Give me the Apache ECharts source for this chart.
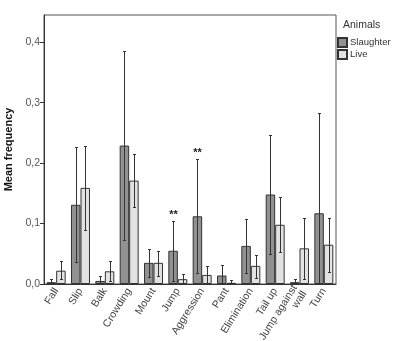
<!DOCTYPE html>
<html>
<head>
<meta charset="utf-8">
<script src="https://cdn.jsdelivr.net/npm/echarts@6/dist/echarts.min.js"></script>
<style>
  html, body { margin: 0; padding: 0; background: #fff; }
  #chart { width: 400px; height: 341px; }
</style>
</head>
<body>
<div id="chart"></div>
<script>
// Behaviour categories
const categories = ['Fall', 'Slip', 'Balk', 'Crowding', 'Mount', 'Jump', 'Aggression',
  'Pant', 'Elimination', 'Tail up', 'Jump against\nwall', 'Turn'];

// Mean frequency per animal group
const slaughterMean = [0.003, 0.131, 0.005, 0.229, 0.035, 0.055, 0.112, 0.014, 0.063, 0.148, 0.003, 0.117];
const liveMean      = [0.022, 0.159, 0.021, 0.171, 0.035, 0.008, 0.015, 0.002, 0.030, 0.098, 0.059, 0.065];

// Error bar limits (lower, upper)
const slaughterLow  = [0.000, 0.037, 0.000, 0.073, 0.011, 0.005, 0.019, 0.000, 0.018, 0.050, 0.000, 0.000];
const slaughterHigh = [0.009, 0.226, 0.013, 0.385, 0.058, 0.105, 0.206, 0.032, 0.107, 0.246, 0.008, 0.283];
const liveLow       = [0.008, 0.090, 0.005, 0.128, 0.013, 0.000, 0.000, 0.000, 0.010, 0.053, 0.008, 0.020];
const liveHigh      = [0.038, 0.229, 0.038, 0.215, 0.055, 0.017, 0.030, 0.006, 0.048, 0.144, 0.110, 0.109];

// Significance markers above the slaughter group
const slaughterSig  = ['', '', '', '', '', '**', '**', '', '', '', '', ''];

const yTicks = { min: 0, max: 0.445, interval: 0.1 };

const CAT_GAP = 0.22;                 // fraction of category left empty
const BAR_SHIFT = (1 - CAT_GAP) / 4;  // bar centre offset as fraction of category width
const FONT = '"Liberation Sans", Arial, sans-serif';

function errorSeries(name, low, high, sign, sig) {
  return {
    type: 'custom',
    name: name + ' err',
    z: 5,
    silent: true,
    data: categories.map((c, i) => [i, low[i], high[i]]),
    renderItem: function (params, api) {
      const i = api.value(0);
      const catW = api.size([1, 0])[0];
      const x = Math.round(api.coord([i, 0])[0] + sign * catW * BAR_SHIFT) + 0.5;
      const yLo = Math.round(api.coord([i, api.value(1)])[1]) + 0.5;
      const yHi = Math.round(api.coord([i, api.value(2)])[1]) + 0.5;
      const cap = 1.5;
      const st = { stroke: '#333', lineWidth: 1 };
      const children = [
        { type: 'line', shape: { x1: x, y1: yLo, x2: x, y2: yHi }, style: st },
        { type: 'line', shape: { x1: x - cap, y1: yHi, x2: x + cap, y2: yHi }, style: st },
        { type: 'line', shape: { x1: x - cap, y1: yLo, x2: x + cap, y2: yLo }, style: st }
      ];
      if (sig && sig[i]) {
        children.push({
          type: 'text',
          style: {
            text: sig[i], x: x, y: yHi - 1, align: 'center', verticalAlign: 'bottom',
            fill: '#222', font: 'bold 11px ' + FONT
          }
        });
      }
      return { type: 'group', children: children };
    }
  };
}

const chart = echarts.init(document.getElementById('chart'), null, { renderer: 'canvas' });

chart.setOption({
  animation: false,
  backgroundColor: '#fff',
  textStyle: { fontFamily: FONT },
  title: {
    text: 'Animals', left: 343, top: 20, padding: 0,
    textStyle: { fontSize: 10.5, fontWeight: 'normal', color: '#333' }
  },
  legend: {
    orient: 'vertical', left: 337, top: 37, padding: 0,
    itemWidth: 9, itemHeight: 9, itemGap: 1,
    data: ['Slaughter', 'Live'],
    textStyle: { fontSize: 9.5, color: '#333', padding: [0, 0, 0, -2] },
    icon: 'rect'
  },
  grid: {
    left: 44, top: 15, right: 64, bottom: 57,
    containLabel: false, outerBoundsMode: 'none',
    show: true, borderColor: '#555', borderWidth: 1
  },
  xAxis: {
    type: 'category',
    data: categories,
    axisLine: { lineStyle: { color: '#333' } },
    axisTick: { alignWithLabel: true, length: 4, lineStyle: { color: '#333' } },
    axisLabel: {
      rotate: 58, interval: 0, fontSize: 10.5, color: '#444', margin: 5, lineHeight: 11
    }
  },
  yAxis: {
    type: 'value',
    min: yTicks.min, max: yTicks.max, interval: yTicks.interval,
    name: 'Mean frequency', nameLocation: 'middle', nameGap: 23,
    nameTextStyle: { fontSize: 11, fontWeight: 'bold', color: '#111' },
    axisLine: { show: true, lineStyle: { color: '#333' } },
    axisTick: { show: true, length: 4, lineStyle: { color: '#333' } },
    splitLine: { show: false },
    axisLabel: {
      fontSize: 10.5, color: '#555', margin: 4, showMaxLabel: false,
      formatter: v => v.toFixed(1).replace('.', ',')
    }
  },
  series: [
    {
      name: 'Slaughter', type: 'bar', data: slaughterMean,
      barGap: '0%', barCategoryGap: (CAT_GAP * 100) + '%',
      itemStyle: { color: '#919191', borderColor: '#333', borderWidth: 1 }
    },
    {
      name: 'Live', type: 'bar', data: liveMean,
      itemStyle: { color: '#e2e2e2', borderColor: '#333', borderWidth: 1 }
    },
    errorSeries('Slaughter', slaughterLow, slaughterHigh, -1, slaughterSig),
    errorSeries('Live', liveLow, liveHigh, 1, null)
  ]
});
</script>
</body>
</html>
